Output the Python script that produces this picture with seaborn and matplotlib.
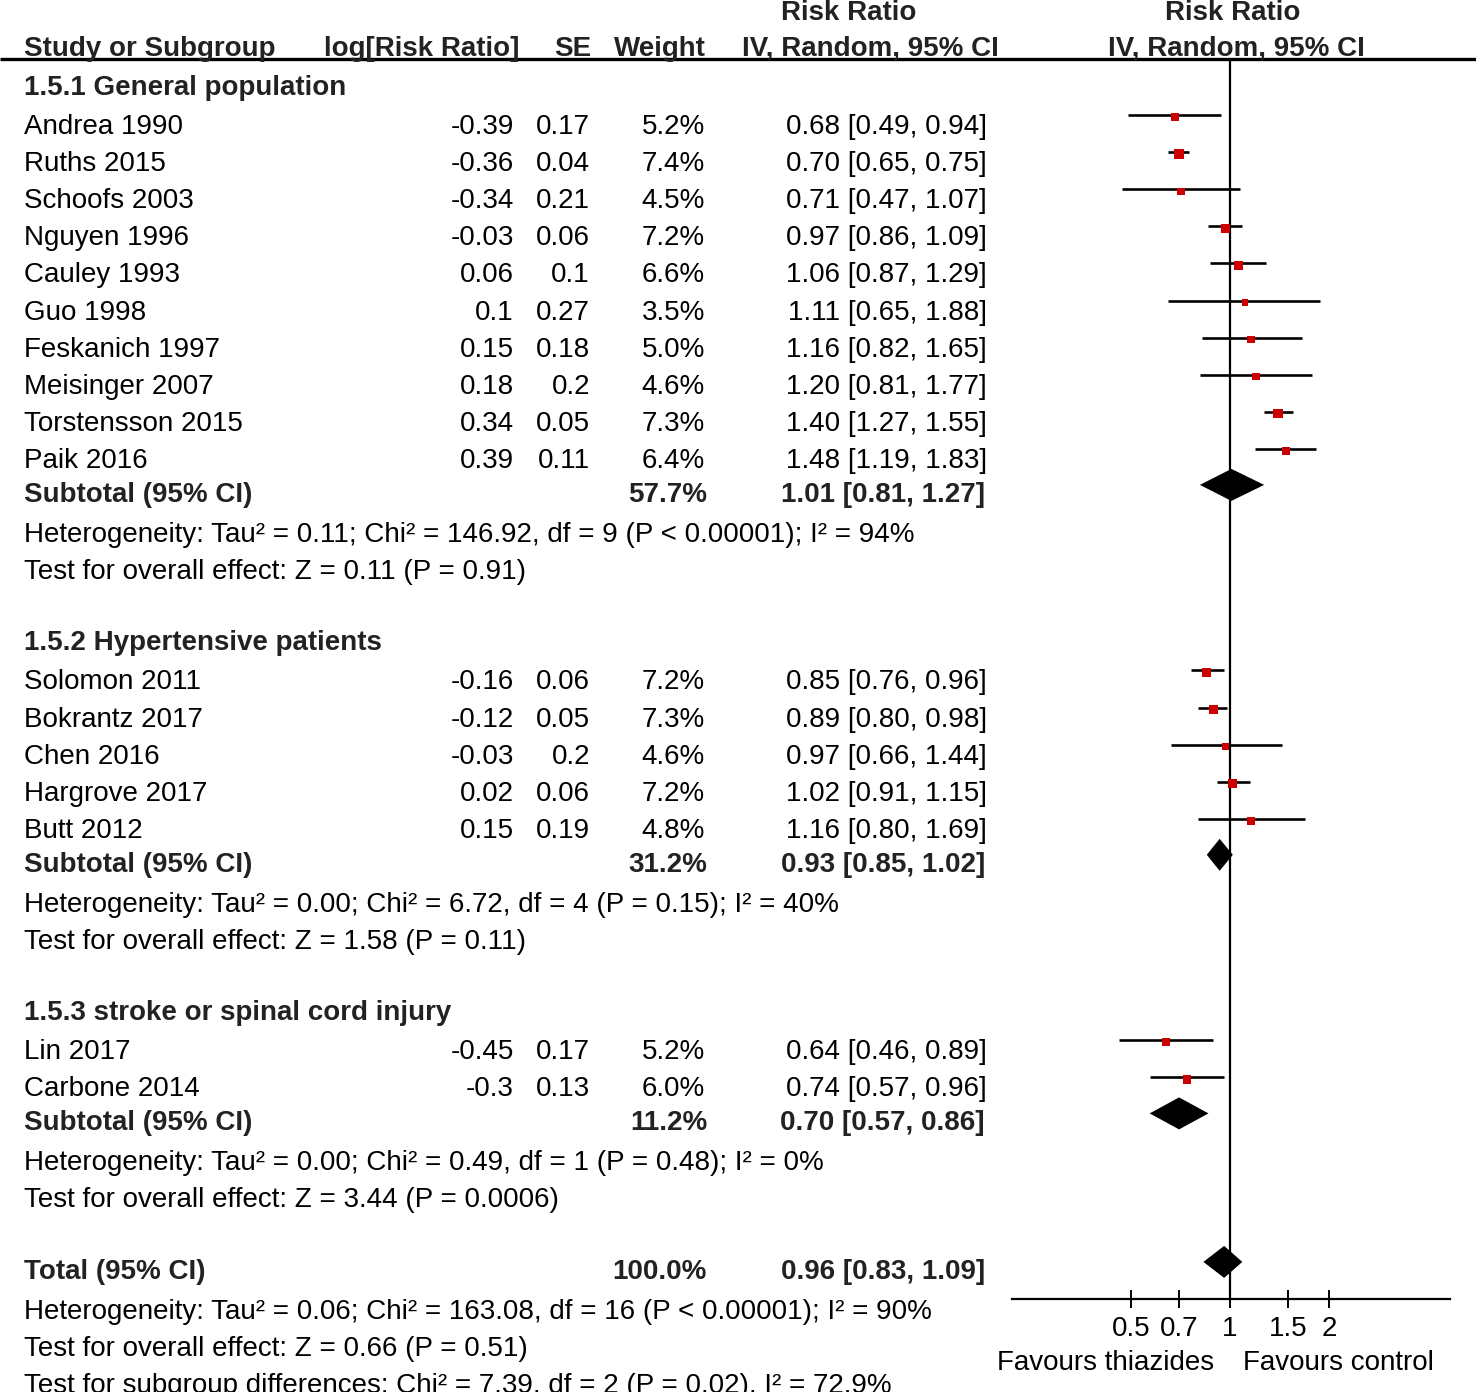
import numpy as np
import pandas as pd
import seaborn as sns
import matplotlib.pyplot as plt

sns.set_theme(style='ticks')
plt.rcParams['font.family'] = ['Liberation Sans', 'DejaVu Sans']

# ---- data ----
group_titles = ["1.5.1 General population", "1.5.2 Hypertensive patients",
                "1.5.3 stroke or spinal cord injury"]

g1_names = ["Andrea 1990", "Ruths 2015", "Schoofs 2003", "Nguyen 1996", "Cauley 1993",
            "Guo 1998", "Feskanich 1997", "Meisinger 2007", "Torstensson 2015", "Paik 2016"]
g1_logrr = [-0.39, -0.36, -0.34, -0.03, 0.06, 0.1, 0.15, 0.18, 0.34, 0.39]
g1_se = [0.17, 0.04, 0.21, 0.06, 0.1, 0.27, 0.18, 0.2, 0.05, 0.11]
g1_weight = [5.2, 7.4, 4.5, 7.2, 6.6, 3.5, 5.0, 4.6, 7.3, 6.4]
g1_rr = [0.68, 0.70, 0.71, 0.97, 1.06, 1.11, 1.16, 1.20, 1.40, 1.48]
g1_lo = [0.49, 0.65, 0.47, 0.86, 0.87, 0.65, 0.82, 0.81, 1.27, 1.19]
g1_hi = [0.94, 0.75, 1.07, 1.09, 1.29, 1.88, 1.65, 1.77, 1.55, 1.83]

g2_names = ["Solomon 2011", "Bokrantz 2017", "Chen 2016", "Hargrove 2017", "Butt 2012"]
g2_logrr = [-0.16, -0.12, -0.03, 0.02, 0.15]
g2_se = [0.06, 0.05, 0.2, 0.06, 0.19]
g2_weight = [7.2, 7.3, 4.6, 7.2, 4.8]
g2_rr = [0.85, 0.89, 0.97, 1.02, 1.16]
g2_lo = [0.76, 0.80, 0.66, 0.91, 0.80]
g2_hi = [0.96, 0.98, 1.44, 1.15, 1.69]

g3_names = ["Lin 2017", "Carbone 2014"]
g3_logrr = [-0.45, -0.3]
g3_se = [0.17, 0.13]
g3_weight = [5.2, 6.0]
g3_rr = [0.64, 0.74]
g3_lo = [0.46, 0.57]
g3_hi = [0.89, 0.96]

sub_weight = [57.7, 31.2, 11.2]
sub_rr = [1.01, 0.93, 0.70]
sub_lo = [0.81, 0.85, 0.57]
sub_hi = [1.27, 1.02, 0.86]
sub_het = ["Heterogeneity: Tau² = 0.11; Chi² = 146.92, df = 9 (P < 0.00001); I² = 94%",
           "Heterogeneity: Tau² = 0.00; Chi² = 6.72, df = 4 (P = 0.15); I² = 40%",
           "Heterogeneity: Tau² = 0.00; Chi² = 0.49, df = 1 (P = 0.48); I² = 0%"]
sub_test = ["Test for overall effect: Z = 0.11 (P = 0.91)",
            "Test for overall effect: Z = 1.58 (P = 0.11)",
            "Test for overall effect: Z = 3.44 (P = 0.0006)"]

total_weight = 100.0
total_rr, total_lo, total_hi = 0.96, 0.83, 1.09
total_notes = ["Heterogeneity: Tau² = 0.06; Chi² = 163.08, df = 16 (P < 0.00001); I² = 90%",
               "Test for overall effect: Z = 0.66 (P = 0.51)",
               "Test for subgroup differences: Chi² = 7.39, df = 2 (P = 0.02), I² = 72.9%"]

axis_ticks = [0.5, 0.7, 1, 1.5, 2]
axis_ticklabels = ["0.5", "0.7", "1", "1.5", "2"]

groups = [
    (g1_names, g1_logrr, g1_se, g1_weight, g1_rr, g1_lo, g1_hi),
    (g2_names, g2_logrr, g2_se, g2_weight, g2_rr, g2_lo, g2_hi),
    (g3_names, g3_logrr, g3_se, g3_weight, g3_rr, g3_lo, g3_hi),
]

# ---- layout (pixels) ----
W, H = 1476, 1392
FS = 20
BOLD_C = '#222222'
X_NAME, X_LOG, X_SE, X_W, X_CI = 24, 514, 590, 705, 987

fig = plt.figure(figsize=(W / 100, H / 100), dpi=100)
ax_t = fig.add_axes([0, 0, 1, 1])
ax_t.set_xlim(0, W)
ax_t.set_ylim(H, 0)
ax_t.axis('off')

AX_L, AX_R, AX_TOP, AX_BOT = 1012, 1450, 60, 1299
ax = fig.add_axes([AX_L / W, 1 - AX_BOT / H, (AX_R - AX_L) / W, (AX_BOT - AX_TOP) / H])
ax.patch.set_alpha(0)
ax.set_xscale('log')
ax.set_xlim(2 ** ((AX_L - 1230) / 99), 2 ** ((AX_R - 1230) / 99))
ax.set_ylim(AX_BOT, AX_TOP)


def put(x, y, s, ha='left', bold=False):
    ax_t.text(x, y, s, ha=ha, va='baseline', fontsize=FS,
              fontweight='bold' if bold else 'normal',
              color=BOLD_C if bold else 'black')


def fmt_ci(r, l, h):
    return f"{r:.2f} [{l:.2f}, {h:.2f}]"


# header
put(849, 20, "Risk Ratio", ha='center', bold=True)
put(1233, 20, "Risk Ratio", ha='center', bold=True)
put(X_NAME, 56, "Study or Subgroup", bold=True)
put(519, 56, "log[Risk Ratio]", ha='right', bold=True)
put(591, 56, "SE", ha='right', bold=True)
put(706, 56, "Weight", ha='right', bold=True)
put(999, 56, "IV, Random, 95% CI", ha='right', bold=True)
put(1236, 56, "IV, Random, 95% CI", ha='center', bold=True)
ax_t.plot([0, W], [59, 59], color='black', lw=2.4, solid_capstyle='butt')

study_rows = []
diamonds = []
y = 95
for gi, (names, logrr, se, wt, rr, lo, hi) in enumerate(groups):
    put(X_NAME, y, group_titles[gi], bold=True)
    y += 39
    for i in range(len(names)):
        put(X_NAME, y, names[i])
        put(X_LOG, y, f"{logrr[i]:g}", ha='right')
        put(X_SE, y, f"{se[i]:g}", ha='right')
        put(X_W, y, f"{wt[i]:.1f}%", ha='right')
        put(X_CI, y, fmt_ci(rr[i], lo[i], hi[i]), ha='right')
        study_rows.append(dict(y=y, rr=rr[i], lo=lo[i], hi=hi[i], weight=wt[i]))
        y += 37.1
    y += 34 - 37.1
    put(X_NAME, y, "Subtotal (95% CI)", bold=True)
    put(X_W + 2, y, f"{sub_weight[gi]:.1f}%", ha='right', bold=True)
    put(X_CI - 2, y, fmt_ci(sub_rr[gi], sub_lo[gi], sub_hi[gi]), ha='right', bold=True)
    diamonds.append((y, sub_rr[gi], sub_lo[gi], sub_hi[gi]))
    y += 40
    put(X_NAME, y, sub_het[gi])
    y += 37
    put(X_NAME, y, sub_test[gi])
    y += 71.5

put(X_NAME, y, "Total (95% CI)", bold=True)
put(X_W + 2, y, f"{total_weight:.1f}%", ha='right', bold=True)
put(X_CI - 2, y, fmt_ci(total_rr, total_lo, total_hi), ha='right', bold=True)
diamonds.append((y, total_rr, total_lo, total_hi))
y += 40
for note in total_notes:
    put(X_NAME, y, note)
    y += 37

# ---- forest panel ----
df = pd.DataFrame(study_rows)
ax.axvline(1, color='black', lw=1.6, zorder=1)
ax.hlines(df['y'] - 19, df['lo'], df['hi'], color='black', lw=1.9, zorder=2)
sns.scatterplot(data=df.assign(ym=df['y'] - 17), x='rr', y='ym', size='weight',
                sizes=(20, 46), size_norm=(3.5, 7.4), marker='s', color='#cc0000',
                linewidth=0, legend=False, ax=ax, zorder=3)
for (yd, r, l, h) in diamonds:
    yc = yd - 17
    ax.fill([l, r, h, r], [yc, yc - 16, yc, yc + 16], color='black', lw=0, zorder=4)

ax.set_xlabel('')
ax.set_ylabel('')
ax.set_yticks([])
for side in ['top', 'left', 'right']:
    ax.spines[side].set_visible(False)
ax.spines['bottom'].set_color('black')
ax.spines['bottom'].set_linewidth(1.6)
ax.set_xticks(axis_ticks)
ax.set_xticklabels(axis_ticklabels)
ax.minorticks_off()
ax.tick_params(axis='x', direction='inout', length=13, width=1.4, color='black',
               labelsize=FS, pad=6, labelcolor='black')

put(1106, 1370, "Favours thiazides", ha='center')
put(1338, 1370, "Favours control", ha='center')

fig.savefig('out.png', dpi=100)
